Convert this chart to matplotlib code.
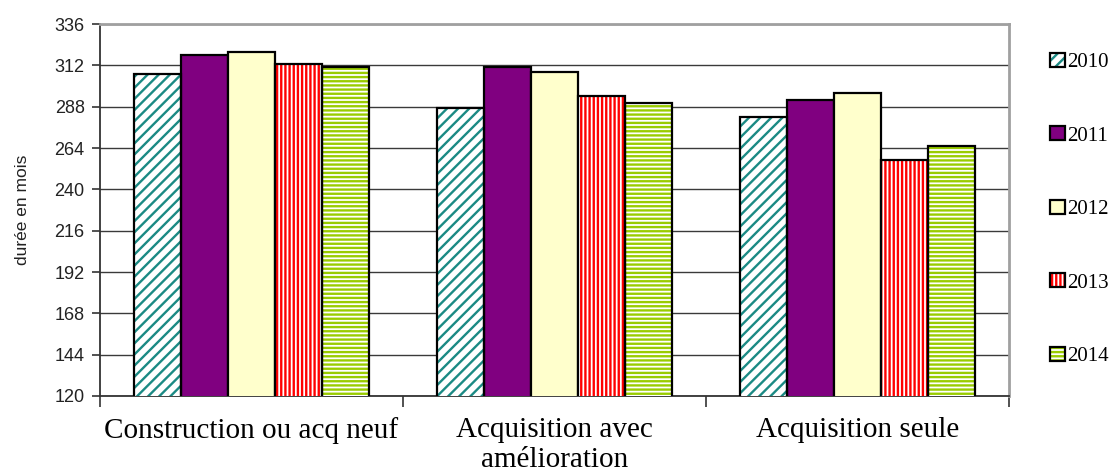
import numpy as np
import matplotlib
matplotlib.use("Agg")
import matplotlib.pyplot as plt

categories = ["Construction ou acq neuf", "Acquisition avec\namélioration", "Acquisition seule"]
years = ["2010", "2011", "2012", "2013", "2014"]
values = {
    "2010": [307, 287, 282],
    "2011": [318, 311, 292],
    "2012": [320, 308, 296],
    "2013": [313, 294, 257],
    "2014": [311, 290, 265],
}
y_ticks = [120, 144, 168, 192, 216, 240, 264, 288, 312, 336]

# fill colour, hatch colour, hatch pattern
styles = {
    "2010": ("white", "#1B8A84", "///"),
    "2011": ("#800080", None, None),
    "2012": ("#FFFFCC", None, None),
    "2013": ("white", "#FF0000", "||||"),
    "2014": ("white", "#99CC00", "----"),
}

plt.rcParams["hatch.linewidth"] = 1.7

fig = plt.figure(figsize=(11.2, 4.72), dpi=100)
ax = fig.add_axes([100 / 1120, 1 - 396 / 472, 909 / 1120, 372 / 472])

x = np.arange(len(categories))
width = 0.155
handles = []
for k, yr in enumerate(years):
    face, hcol, hatch = styles[yr]
    pos = x + (k - 2) * width
    vals = values[yr]
    if hatch:
        ax.bar(pos, vals, width, bottom=0, color=face, edgecolor=hcol,
               hatch=hatch, linewidth=0, zorder=3)
        ax.bar(pos, vals, width, bottom=0, facecolor="none", edgecolor="black",
               linewidth=1.6, zorder=4)
        h_fill = plt.Rectangle((0, 0), 1, 1, facecolor=face, edgecolor=hcol,
                               hatch=hatch, linewidth=0)
        h_edge = plt.Rectangle((0, 0), 1, 1, facecolor="none", edgecolor="black",
                               linewidth=1.6)
        handles.append((h_fill, h_edge))
    else:
        ax.bar(pos, vals, width, bottom=0, color=face, edgecolor="black",
               linewidth=1.6, zorder=3)
        handles.append(plt.Rectangle((0, 0), 1, 1, facecolor=face,
                                     edgecolor="black", linewidth=1.6))

ax.set_xlim(-0.5, 2.5)
ax.set_ylim(120, 336)
ax.set_yticks(y_ticks)
ax.set_yticklabels([str(t) for t in y_ticks])
ax.yaxis.grid(True, color="#3a3a3a", linewidth=1.0, zorder=0)
ax.set_axisbelow(True)

# category boundaries carry the tick marks, labels sit at the centres
ax.set_xticks([-0.5, 0.5, 1.5, 2.5])
ax.set_xticklabels([])
ax.set_xticks(x, minor=True)
ax.set_xticklabels(categories, minor=True, fontsize=21,
                   family="Liberation Serif", linespacing=1.2)
ax.tick_params(axis="x", which="minor", length=0, pad=15)
ax.tick_params(axis="x", which="major", length=8, width=1.2, color="#333333",
               direction="out")
ax.tick_params(axis="y", length=6, width=1.2, color="#333333", direction="out",
               pad=5, labelsize=13, labelcolor="#222222",
               labelfontfamily="Liberation Sans")

for side in ("top", "right"):
    ax.spines[side].set_color("#A0A0A0")
    ax.spines[side].set_linewidth(2.0)
for side in ("left", "bottom"):
    ax.spines[side].set_color("#333333")
    ax.spines[side].set_linewidth(1.3)

ax.set_ylabel("durée en mois", fontsize=12.5, family="Liberation Sans",
              color="#222222")
ax.yaxis.set_label_coords(-70 / 909, 0.5)

fig.legend(handles, years, loc="center left",
           bbox_to_anchor=(1050 / 1120, 1 - 209.5 / 472),
           frameon=False, borderpad=0, borderaxespad=0,
           prop={"family": "Liberation Serif", "size": 15},
           handlelength=0.7, handleheight=0.65, handletextpad=0.12,
           labelspacing=2.6)

fig.savefig("out.png", dpi=100)
